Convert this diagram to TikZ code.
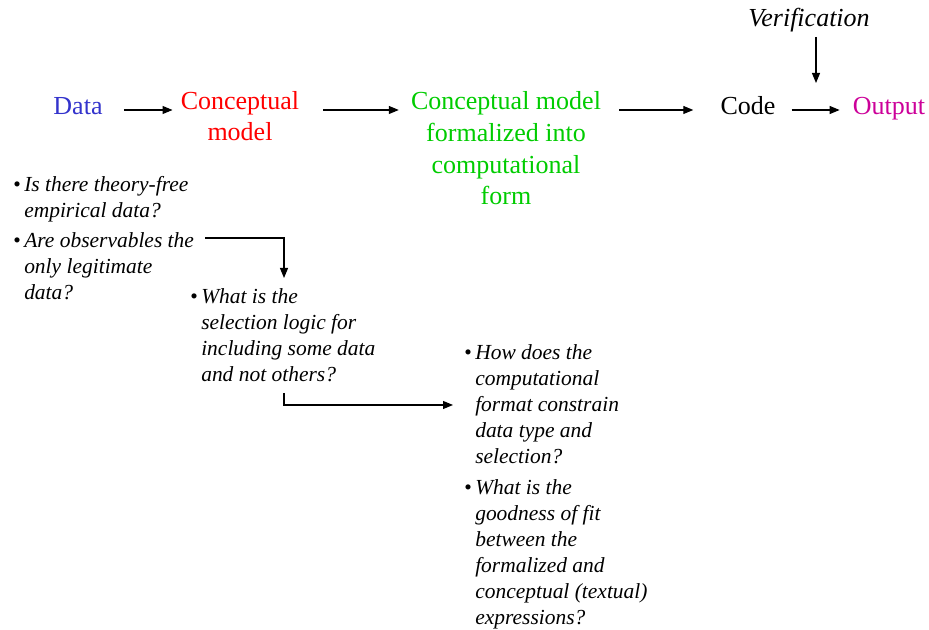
\documentclass[tikz,border=0pt]{standalone}
\usepackage{fontspec}
\setmainfont{Liberation Serif}
\usetikzlibrary{arrows.meta,calc}
\definecolor{dblue}{RGB}{51,51,204}
\definecolor{dred}{RGB}{255,0,0}
\definecolor{dgreen}{RGB}{0,204,0}
\definecolor{dmag}{RGB}{204,0,153}
\newcommand\bul{\llap{\upshape\textbullet\hspace{2.5pt}}}
\begin{document}
\begin{tikzpicture}[x=0.75pt,y=-0.75pt,
  big/.style={font=\fontsize{19.5}{23.8}\selectfont, inner sep=0, align=center, anchor=base},
  q/.style={font=\fontsize{16.1}{19.6}\selectfont\itshape, inner sep=0, align=left, anchor=base west},
  arr/.style={-{Triangle[length=7.5pt,width=6pt]}, line width=0.8pt}]
\useasboundingbox (0,0) rectangle (929,630);
% base anchor of a multi-line node = baseline of its last line
\node[big, text=dblue] (data) at (78,115) {Data};
\node[big, text=dred] (cm) at (240,141) {Conceptual\\model};
\node[big, text=dgreen] (fm) at (506,205) {Conceptual model\\formalized into\\computational\\form};
\node[big] (code) at (748,115) {Code};
\node[big, text=dmag] (out) at (889,115) {Output};
\node[big, font=\fontsize{19.5}{23.8}\selectfont\itshape] (ver) at (809,27) {Verification};

\node[q] (q1) at (24,218) {\bul Is there theory-free\\empirical data?};
\node[q] (q2) at (24,300) {\bul Are observables the\\only legitimate\\data?};
\node[q] (q3) at (201,382) {\bul What is the\\selection logic for\\including some data\\and not others?};
\node[q] (q4) at (475,464) {\bul How does the\\computational\\format constrain\\data type and\\selection?};
\node[q] (q5) at (475,625) {\bul What is the\\goodness of fit\\between the\\formalized and\\conceptual (textual)\\expressions?};

\draw[arr] ($(data.base east)+(21,-5)$) -- ($(cm.base west)+(-8,-31)$);
\draw[arr] ($(cm.base east)+(24,-31)$) -- ($(fm.base west)+(-12,-95)$);
\draw[arr] ($(fm.base east)+(18,-95)$) -- ($(code.base west)+(-27,-5)$);
\draw[arr] ($(code.base east)+(16,-5)$) -- ($(out.base west)+(-13,-5)$);
\draw[arr] ($(ver.base)+(7,10)$) -- ($(ver.base)+(7,56)$);
\draw[arr] ($(q2.base west)+(181,-62)$) -| ($(q3.base west)+(83,-104)$);
\draw[arr] ($(q3.base west)+(83,11)$) |- ($(q4.base west)+(-22,-59)$);
\end{tikzpicture}
\end{document}
